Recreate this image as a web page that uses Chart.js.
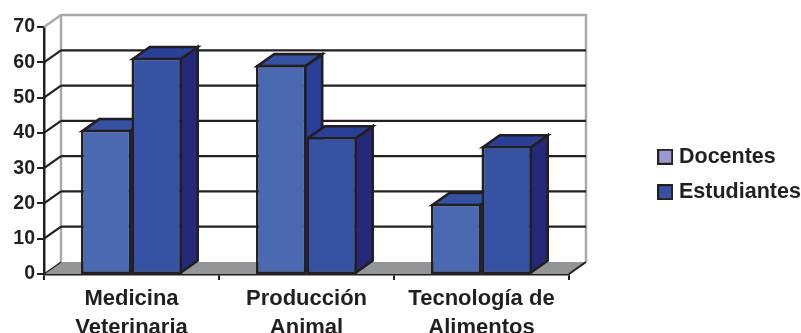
<!DOCTYPE html>
<html><head><meta charset="utf-8">
<style>html,body{margin:0;padding:0;background:#fff}#w{width:801px;height:333px;position:relative;overflow:hidden}</style>
<script src="https://cdn.jsdelivr.net/npm/chart.js@4"></script>
</head><body><div id="w"><canvas id="c" width="801" height="333"></canvas></div>
<script>
const categories=[["Medicina","Veterinaria"],["Producción","Animal"],["Tecnología de","Alimentos"]];
const docentes=[40,58,19.5];
const estudiantes=[60,38,35.5];
const seriesNames=["Docentes","Estudiantes"];
const yTicks=[0,10,20,30,40,50,60,70];
const INK='#231f20';
const FACE=['#4a69b0','#3752a3'],TOP=['#3552a2','#2a3f98'],SIDE=['#2a3f98','#252a78'],SWATCH=['#9999cc','#3752a3'];
const DX=17,DY=12,FONT='"Liberation Sans", Arial, sans-serif';
function swatch(col){const k=document.createElement('canvas');k.width=16;k.height=16;const g=k.getContext('2d');g.fillStyle=col;g.fillRect(0,0,16,16);g.strokeStyle=INK;g.lineWidth=2;g.strokeRect(1,1,14,14);return k;}
function poly(ctx,p,fill,stroke,lw){ctx.beginPath();p.forEach((q,i)=>i?ctx.lineTo(q[0],q[1]):ctx.moveTo(q[0],q[1]));ctx.closePath();if(fill){ctx.fillStyle=fill;ctx.fill();}if(stroke){ctx.strokeStyle=stroke;ctx.lineWidth=lw;ctx.lineJoin='miter';ctx.stroke();}}
function seg(ctx,a,b,c,d,col,lw){ctx.beginPath();ctx.moveTo(a,b);ctx.lineTo(c,d);ctx.strokeStyle=col;ctx.lineWidth=lw;ctx.stroke();}
const box3d={id:'box3d',
 afterLayout(ch){const l=ch.legend;l.left=648.25;l.right=801;l.top=132;l.bottom=333;},
 beforeDatasetsDraw(ch){const ctx=ch.ctx,a=ch.chartArea,y=ch.scales.y;ctx.save();
  const G='#a7a9ac';
  poly(ctx,[[a.left,a.bottom],[a.left+DX,a.bottom-DY],[a.right+DX,a.bottom-DY],[a.right,a.bottom]],'#939598');
  seg(ctx,a.left+DX,a.top-DY-1,a.left+DX,a.bottom-DY,G,2.5);
  seg(ctx,a.right+DX,a.top-DY-1,a.right+DX,a.bottom-DY,G,2.5);
  seg(ctx,a.left+DX,a.top-DY,a.right+DX,a.top-DY,G,2.5);
  seg(ctx,a.left,a.top,a.left+DX,a.top-DY,G,2.5);
  yTicks.forEach(v=>{if(v===0||v===70)return;const p=y.getPixelForValue(v);
   seg(ctx,a.left,p,a.left+DX,p-DY,INK,2.2);seg(ctx,a.left+DX,p-DY,a.right+DX,p-DY,INK,2.2);});
  seg(ctx,a.left,a.bottom,a.left+DX,a.bottom-DY,INK,1.2);
  seg(ctx,a.right,a.bottom,a.right+DX,a.bottom-DY,INK,2);
  [0,1].forEach(d=>{ch.getDatasetMeta(d).data.forEach(b=>{
   const L=b.x-b.width/2+1.3,R=b.x+b.width/2-1.3,T=b.y+1.3,B=b.base-1.3;
   poly(ctx,[[R,B],[R+DX,B-DY],[R+DX,T-DY],[R,T]],SIDE[d],INK,2.6);
   poly(ctx,[[L,T],[L+DX,T-DY],[R+DX,T-DY],[R,T]],TOP[d],INK,2.6);
  });});
  ctx.restore();}
};
const ds=(label,data,i)=>({label,data,yAxisID:'yBars',backgroundColor:FACE[i],borderColor:INK,borderWidth:2.6,borderSkipped:false});
new Chart(document.getElementById('c'),{type:'bar',
 data:{labels:categories,datasets:[ds(seriesNames[0],docentes,0),ds(seriesNames[1],estudiantes,1)]},
 plugins:[box3d],
 options:{responsive:false,animation:false,
  layout:{padding:{left:0,top:27,right:232,bottom:0}},
  datasets:{bar:{barPercentage:1,categoryPercentage:0.577}},
  scales:{
   x:{afterFit(s){s.height=59;},offset:true,
      grid:{drawOnChartArea:false,drawTicks:true,tickLength:6,color:INK,lineWidth:2,offset:true},
      border:{display:true,color:INK,width:2.5},
      ticks:{autoSkip:false,maxRotation:0,minRotation:0,padding:4,color:INK,font:{family:FONT,weight:'bold',size:22,lineHeight:1.32}}},
   y:{afterFit(s){s.width=44;},min:0,max:70,
      afterBuildTicks(s){s.ticks=yTicks.map(v=>({value:v}));},
      grid:{drawOnChartArea:false,drawTicks:true,tickLength:7,color:INK,lineWidth:2},
      border:{display:true,color:INK,width:2.5},
      ticks:{padding:2,color:INK,font:{family:FONT,weight:'bold',size:19.5}}},
   yBars:{display:false,min:0,max:68.5}
  },
  plugins:{tooltip:{enabled:false},title:{display:false},
   legend:{position:'chartArea',align:'start',
    labels:{usePointStyle:true,pointStyle:'rect',pointStyleWidth:6,boxHeight:15,padding:14,color:INK,font:{family:FONT,weight:'bold',size:21.5},
     generateLabels(){return seriesNames.map((n,i)=>({text:n,fillStyle:SWATCH[i],strokeStyle:INK,lineWidth:2,pointStyle:swatch(SWATCH[i]),datasetIndex:i,fontColor:INK}));}}}}
 }});
</script></body></html>
